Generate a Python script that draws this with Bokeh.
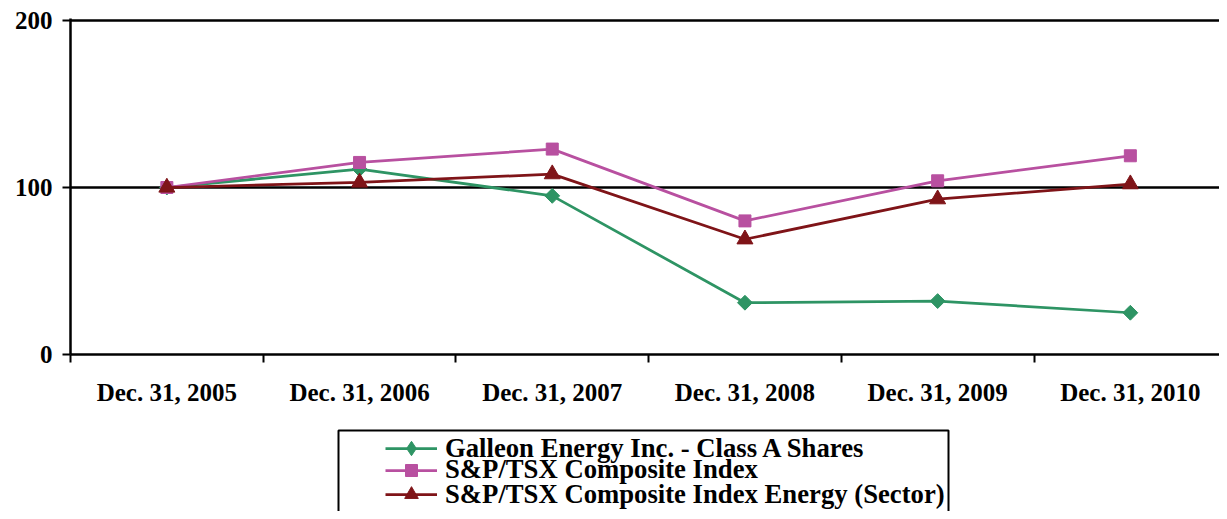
import math
from bokeh.plotting import figure
from bokeh.layouts import column
from bokeh.models import (Range1d, FixedTicker, Legend, LegendItem, BoxAnnotation)
from bokeh.embed import file_html
from bokeh.resources import INLINE

categories = ["Dec. 31, 2005", "Dec. 31, 2006", "Dec. 31, 2007",
              "Dec. 31, 2008", "Dec. 31, 2009", "Dec. 31, 2010"]
galleon = [100, 111, 95, 31, 32, 25]
tsx = [100, 115, 123, 80, 104, 119]
energy = [100, 103, 108, 69, 93, 102]
y_ticks = [0, 100, 200]

series_names = ["Galleon Energy Inc. - Class A Shares",
                "S&P/TSX Composite Index",
                "S&P/TSX Composite Index Energy (Sector)",
                " "]

FONT = "Liberation Serif"
GREEN = "#2E9464"
MAGENTA = "#B850A0"
MAROON = "#7F1418"
CYAN = "#66CCDD"

W = 1219
TOP_H = 420
LEG_H = 91
FRAME_LEFT = 70

xs = [i + 0.5 for i in range(len(categories))]

p = figure(width=W, height=TOP_H, output_backend="svg", toolbar_location=None,
           x_range=Range1d(0, (W - FRAME_LEFT) / 192.7), y_range=Range1d(0, 201.2),
           min_border_left=FRAME_LEFT, min_border_top=18, min_border_right=0,
           min_border_bottom=TOP_H - 354)
p.outline_line_color = None
p.background_fill_color = "white"
p.border_fill_color = "white"

# x axis
p.xaxis.ticker = FixedTicker(ticks=xs, minor_ticks=list(range(0, 7)))
p.xaxis.major_label_overrides = {x: c for x, c in zip(xs, categories)}
p.xaxis.major_tick_line_color = None
p.xaxis.major_tick_out = 0
p.xaxis.major_tick_in = 0
p.xaxis.minor_tick_out = 8
p.xaxis.minor_tick_in = 0
p.xaxis.minor_tick_line_color = "black"
p.xaxis.minor_tick_line_width = 2
p.xaxis.axis_line_color = "black"
p.xaxis.axis_line_width = 2.5
p.xaxis.major_label_standoff = 16
p.xaxis.major_label_text_font = FONT
p.xaxis.major_label_text_font_style = "bold"
p.xaxis.major_label_text_font_size = "25px"
p.xaxis.major_label_text_color = "black"

# y axis
p.yaxis.ticker = FixedTicker(ticks=y_ticks, minor_ticks=[])
p.yaxis.major_tick_out = 8
p.yaxis.major_tick_in = 0
p.yaxis.major_tick_line_width = 2
p.yaxis.major_tick_line_color = "black"
p.yaxis.axis_line_color = "black"
p.yaxis.axis_line_width = 2.5
p.yaxis.major_label_standoff = 10
p.yaxis.major_label_text_font = FONT
p.yaxis.major_label_text_font_style = "bold"
p.yaxis.major_label_text_font_size = "25px"
p.yaxis.major_label_text_color = "black"

p.xgrid.visible = False
p.ygrid.ticker = FixedTicker(ticks=[100, 200])
p.ygrid.grid_line_color = "black"
p.ygrid.grid_line_width = 2.5
p.ygrid.grid_line_alpha = 1.0

lw = 2.75
p.line(xs, galleon, line_color=GREEN, line_width=lw)
p.scatter(xs, galleon, marker="square", angle=math.pi / 4, size=10.5,
          fill_color=GREEN, line_color=GREEN)
p.line(xs, tsx, line_color=MAGENTA, line_width=lw)
p.scatter(xs, tsx, marker="square", size=12, fill_color=MAGENTA, line_color=MAGENTA)
p.line(xs, energy, line_color=MAROON, line_width=lw)
p.scatter(xs, energy, marker="triangle", size=16, fill_color=MAROON, line_color=MAROON)

# ---- legend panel ----
q = figure(width=W, height=LEG_H, output_backend="svg", toolbar_location=None,
           x_range=Range1d(0, 1), y_range=Range1d(0, 1),
           min_border_left=0, min_border_right=0, min_border_top=0,
           min_border_bottom=0)
q.axis.visible = False
q.grid.visible = False
q.outline_line_color = None
q.background_fill_color = "white"
q.border_fill_color = "white"

styles = [
    dict(color=GREEN, marker="diamond", gh=36),
    dict(color=MAGENTA, marker="square", gh=30),
    dict(color=MAROON, marker="triangle", gh=34),
    dict(color=CYAN, marker="x", gh=32),
]
renderer_sets = []
for st in styles:
    # placeholder points outside the visible range, used only for the legend swatches
    ln = q.line([-10, -9], [-10, -9], line_color=st["color"], line_width=lw)
    mk = q.scatter([-10], [-10], marker=st["marker"], size=12,
                   fill_color=st["color"], line_color=st["color"],
                   line_width=2.5 if st["marker"] == "x" else 1)
    renderer_sets.append([ln, mk])

box = BoxAnnotation(left=338 - FRAME_LEFT, right=948 - FRAME_LEFT, top=LEG_H - 10, bottom=-30,
                    left_units="screen", right_units="screen",
                    top_units="screen", bottom_units="screen",
                    fill_color="white", fill_alpha=1.0,
                    line_color="black", line_alpha=1.0, line_width=2)
q.add_layout(box)

row_centers = [28, 50.5, 74, 96]
for name, rs, yc, st in zip(series_names, renderer_sets, row_centers, styles):
    H = max(st["gh"], 30)
    leg = Legend(items=[LegendItem(label=name, renderers=rs)],
                 location=(385 - FRAME_LEFT, int(round(LEG_H - (yc + H / 2)))),
                 padding=0, margin=0, spacing=0,
                 border_line_color=None, background_fill_alpha=0,
                 glyph_width=52, glyph_height=st["gh"], label_height=20,
                 label_standoff=8,
                 label_text_font=FONT, label_text_font_style="bold",
                 label_text_font_size="26.7px", label_text_color="black")
    q.add_layout(leg, "center")

layout = column(p, q, spacing=0)
open("out.html", "w").write(file_html(layout, INLINE))
